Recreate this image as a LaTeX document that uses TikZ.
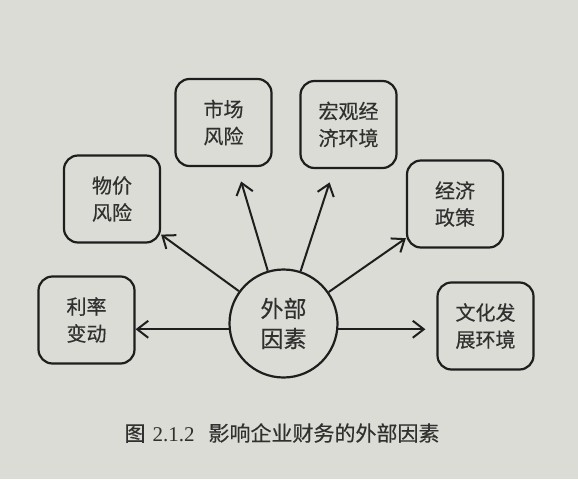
\documentclass[tikz,border=0pt]{standalone}
\usepackage{fontspec}
\setmainfont{Liberation Serif}
\newfontfamily\cjk[FakeBold=0.4]{Noto Sans CJK SC}
\usetikzlibrary{arrows.meta}
\definecolor{paper}{HTML}{DCDCD6}
\definecolor{ink}{HTML}{1E1E1E}
\newcommand{\unitpx}{1pt}

\begin{document}
\begin{tikzpicture}[x=\unitpx,y=-\unitpx,
	factor/.style={draw=ink, line width=2.2pt, rounded corners=14pt, minimum width=96pt, minimum height=87pt, inner sep=0pt, align=center, text=ink!92, font=\cjk\fontsize{20}{27}\selectfont},
	hub/.style={draw=ink, line width=2.2pt, circle, minimum size=108pt, inner sep=0pt, align=center, text=ink!92, font=\cjk\fontsize{23}{30}\selectfont},
	link/.style={draw=ink, line width=2pt, -{Straight Barb[length=11pt,width=17pt]}}]
	\fill[paper] (0,0) rectangle (578,479);
	\useasboundingbox (0,0) rectangle (578,479);

	\node[hub] (ext) at (283.5,323.5) {外部\\因素};
	\node[factor] (rate) at (86.5,320) {利率\\变动};
	\node[factor] (price) at (112,199) {物价\\风险};
	\node[factor] (market) at (223.5,122.5) {市场\\风险};
	\node[factor] (macro) at (348.5,124.5) {宏观经\\济环境};
	\node[factor] (policy) at (455,204) {经济\\政策};
	\node[factor] (culture) at (485.5,326) {文化发\\展环境};

	\draw[link] (ext.186) -- (ext.186 -| rate.east);
	\draw[link] (ext) -- (price);
	\draw[link, shorten >=15pt] (ext) -- (market);
	\draw[link, shorten >=14pt] (ext) -- (macro);
	\draw[link] (ext) -- (policy);
	\draw[link, shorten >=11pt] (ext.-6) -- (ext.-6 -| culture.west);

	\node[text=ink!92, font=\fontsize{21}{24}\selectfont] (caption) at (282,433)
		{{\cjk 图}\hspace{7pt}2.1.2\hspace{14pt}{\cjk 影响企业财务的外部因素}};
\end{tikzpicture}
\end{document}
